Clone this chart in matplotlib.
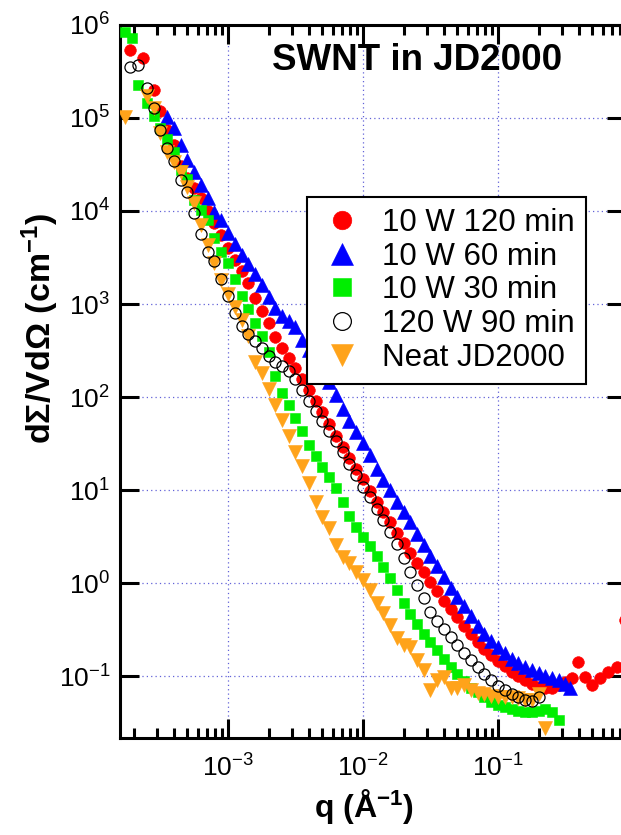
import numpy as np
import matplotlib
matplotlib.use('Agg')
import matplotlib.pyplot as plt
from matplotlib.ticker import FixedLocator, LogLocator, NullLocator

plt.rcParams['font.family'] = ['Liberation Sans', 'DejaVu Sans']
plt.rcParams['mathtext.fontset'] = 'custom'
plt.rcParams['mathtext.rm'] = 'Liberation Sans'
plt.rcParams['mathtext.bf'] = 'Liberation Sans:bold'
plt.rcParams['mathtext.it'] = 'Liberation Sans:italic'

nan = np.nan

# shared q grid of the SANS data (1/A)
q_sans = [2.51e-4, 2.82e-4, 3.16e-4, 3.55e-4, 3.98e-4, 4.47e-4, 5.01e-4, 5.62e-4,
          6.31e-4, 7.08e-4, 7.94e-4, 8.91e-4,
          1.00e-3, 1.12e-3, 1.26e-3, 1.41e-3, 1.58e-3, 1.78e-3, 2.00e-3, 2.24e-3,
          2.51e-3, 2.82e-3, 3.16e-3, 3.55e-3, 3.98e-3, 4.47e-3, 5.01e-3, 5.62e-3,
          6.31e-3, 7.08e-3, 7.94e-3, 8.91e-3,
          1.00e-2, 1.12e-2, 1.26e-2, 1.41e-2, 1.58e-2, 1.78e-2, 2.00e-2, 2.24e-2,
          2.51e-2, 2.82e-2, 3.16e-2, 3.55e-2, 3.98e-2, 4.47e-2, 5.01e-2, 5.62e-2,
          6.31e-2, 7.08e-2, 7.94e-2, 8.91e-2,
          0.100, 0.112, 0.126, 0.141, 0.158, 0.178, 0.200, 0.224, 0.251, 0.282, 0.316]

# intensities (1/cm) on q_sans
i_red = [nan, 2.00e5, 1.19e5, 7.43e4, 5.13e4, 3.05e4, 2.26e4, 1.77e4, 1.38e4, 1.00e4, 7.43e3, 5.52e3,
         4.00e3, 2.97e3, 2.26e3, 1.68e3, 1.16e3, 841, 625, 442, 336, 262, 205, 156, 119, 90.6,
         69.0, 51.3, 38.1, 29.0, 22.1, 16.8,
         13.1, 9.75, 7.43, 5.80, 4.53, 3.45, 2.69, 2.10, 1.64, 1.31, 1.03, 0.820, 0.640, 0.525,
         0.431, 0.345, 0.283, 0.232, 0.195, 0.168,
         0.145, 0.128, 0.110, 0.100, 0.0906, 0.0820, 0.0762, 0.0743, 0.0743, 0.0800, 0.0861]
i_blue = [nan, nan, nan, 1.03e5, 7.80e4, 5.13e4, 3.53e4, 2.63e4, 1.90e4, 1.38e4, 9.75e3, 8.00e3,
          5.80e3, 4.42e3, 3.36e3, 2.69e3, 2.10e3, 1.60e3, 1.19e3, 906, 743, 656, 566, 410, 320, 244,
          190, 145, 105, 74.3, 55.2, 42.1,
          32.0, 23.8, 16.8, 12.8, 10.0, 7.43, 5.80, 4.53, 3.37, 2.56, 1.95, 1.52, 1.16, 0.884,
          0.707, 0.566, 0.442, 0.345, 0.283, 0.238,
          0.205, 0.177, 0.152, 0.138, 0.125, 0.116, 0.108, 0.100, 0.0951, 0.0906, 0.0820]
i_green = [1.45e5, 1.05e5, 7.80e4, 5.94e4, 4.31e4, 2.76e4, 2.21e4, 1.31e4, 1.03e4, 8.00e3, 5.13e3, 3.62e3,
           2.76e3, 1.86e3, 1.22e3, 883, 625, 453, 305, 168, 110, 82.0, 59.4, 43.1, 30.5, 23.2,
           17.7, 13.8, 10.5, 7.43, 5.25, 4.00,
           3.13, 2.50, 1.95, 1.49, 1.13, 0.841, 0.610, 0.465, 0.362, 0.283, 0.232, 0.191, 0.152,
           0.125, 0.105, 0.0883, 0.0743, 0.0673, 0.0594, 0.0525,
           0.0488, 0.0465, 0.0442, 0.0421, 0.0410, 0.0410, 0.0421, 0.0442, 0.0410, 0.0337, nan]
i_black = [2.10e5, 1.28e5, 7.43e4, 4.75e4, 3.45e4, 2.15e4, 1.60e4, 9.51e3, 5.66e3, 3.62e3, 2.90e3, 1.86e3,
           1.22e3, 800, 580, 475, 400, 336, 276, 238, 215, 190, 156, 119, 90.6, 70.7,
           55.2, 43.1, 33.6, 25.6, 19.0, 14.5,
           10.8, 8.41, 6.25, 4.75, 3.53, 2.63, 1.86, 1.31, 0.952, 0.690, 0.488, 0.390, 0.320,
           0.263, 0.215, 0.177, 0.149, 0.125, 0.105, 0.0906,
           0.0780, 0.0707, 0.0640, 0.0594, 0.0552, 0.0538, 0.0594, nan, nan, nan, nan]
i_orange = [1.73e5, 1.28e5, 6.90e4, 4.31e4, 3.36e4, 2.63e4, 1.81e4, 1.22e4, 7.06e3, 4.31e3, 2.76e3, 1.81e3,
            1.28e3, 929, 673, 453, 238, 181, 122, 82.0, 56.6, 38.1, 25.6, 18.1, 11.9, 7.43,
            5.13, 3.90, 2.56, 1.90, 1.64, 1.31,
            1.08, 0.841, 0.610, 0.476, 0.353, 0.256, 0.215, 0.205, 0.149, 0.116, 0.0707, 0.0906,
            0.0976, 0.0743, 0.0743, 0.0800, 0.0707, 0.0656, 0.0640, 0.0610,
            0.0594, 0.0594, 0.0594, 0.0580, 0.0552, 0.0552, 0.0640, 0.0276, nan, nan, nan]

# lowest-q points (USANS side)
q_red_low = [1.88e-4, 2.34e-4]
i_red_low = [5.38e5, 4.42e5]
q_green_low = [1.73e-4, 1.95e-4, 2.15e-4]
i_green_low = [8.41e5, 7.25e5, 2.26e5]
q_black_low = [1.88e-4, 2.15e-4]
i_black_low = [3.53e5, 3.72e5]
q_orange_low = [1.73e-4]
i_orange_low = [1.03e5]

# high-q points
q_red_high = [0.353, 0.392, 0.441, 0.497, 0.570, 0.653, 0.761, 0.873]
i_red_high = [0.0951, 0.141, 0.0976, 0.0800, 0.0951, 0.110, 0.125, 0.400]
q_blue_high = [0.341]
i_blue_high = [0.0743]

labels = ['10 W 120 min', '10 W 60 min', '10 W 30 min', '120 W 90 min', 'Neat JD2000']
x_ticks = [1e-3, 1e-2, 1e-1]
y_ticks = [1e-1, 1e0, 1e1, 1e2, 1e3, 1e4, 1e5, 1e6]

fig = plt.figure(figsize=(6.21, 8.35), dpi=100)
ax = fig.add_axes([0.1932, 0.1162, 0.8148, 0.8539])
ax.set_xscale('log')
ax.set_yscale('log')

series = [
    (q_red_low, i_red_low, i_red, q_red_high, i_red_high, 'o', '#ff0000', True, 8.4, 3),
    ([], [], i_blue, q_blue_high, i_blue_high, '^', '#0000ff', True, 9.6, 4),
    (q_green_low, i_green_low, i_green, [], [], 's', '#00ee00', True, 7.8, 5),
    (q_black_low, i_black_low, i_black, [], [], 'o', 'black', False, 8.0, 7),
    (q_orange_low, i_orange_low, i_orange, [], [], 'v', '#ffa31a', True, 9.6, 6),
]

for lab, (ql, il, ig, qh, ih, mk, col, filled, ms, z) in zip(labels, series):
    q = list(ql) + q_sans + list(qh)
    y = list(il) + ig + list(ih)
    ax.plot(q, y, linestyle='none', marker=mk, markersize=ms,
            markerfacecolor=col if filled else 'none', markeredgecolor=col,
            markeredgewidth=0.4 if filled else 0.9, label=lab, zorder=z)

ax.set_xlim(1.585e-4, 0.887)
ax.set_ylim(0.0216, 1e6)

ax.xaxis.set_major_locator(FixedLocator(x_ticks))
ax.xaxis.set_minor_locator(LogLocator(base=10, subs=np.arange(2, 10), numticks=20))
ax.yaxis.set_major_locator(FixedLocator(y_ticks))
ax.yaxis.set_minor_locator(NullLocator())
ax.set_xticklabels(['$\\mathdefault{10^{-3}}$', '$\\mathdefault{10^{-2}}$', '$\\mathdefault{10^{-1}}$'])
ax.set_yticklabels(['$\\mathdefault{10^{-1}}$', '$\\mathdefault{10^{0}}$', '$\\mathdefault{10^{1}}$',
                    '$\\mathdefault{10^{2}}$', '$\\mathdefault{10^{3}}$', '$\\mathdefault{10^{4}}$',
                    '$\\mathdefault{10^{5}}$', '$\\mathdefault{10^{6}}$'])
ax.tick_params(which='both', direction='in', top=True, right=True, width=2.2)
ax.tick_params(which='major', length=14, labelsize=19)
ax.tick_params(axis='x', which='major', pad=12)
ax.tick_params(axis='y', which='major', pad=7)
ax.tick_params(which='minor', length=7)
for s in ax.spines.values():
    s.set_linewidth(2.2)

ax.set_axisbelow(True)
ax.grid(True, which='major', linestyle=(0, (1, 2.5)), color='#6262d8', linewidth=0.9)

leg = ax.legend(loc='upper left', bbox_to_anchor=(0.3696, 0.7588), borderaxespad=0,
                fancybox=False, edgecolor='black', framealpha=1, fontsize=22.5,
                markerscale=1.6, handlelength=1.55, handletextpad=0.5,
                labelspacing=0.12, borderpad=0.35)
leg.get_frame().set_linewidth(1.5)
leg.set_zorder(10)

fig.text(417 / 621, 1 - 60 / 835, 'SWNT in JD2000', fontsize=26.5, fontweight='bold',
         ha='center', va='center')
fig.text(40 / 621, 1 - 328 / 835, 'd\u03a3/Vd\u03a9 (cm$^{\\mathbf{-1}}$)', rotation=90,
         fontsize=24.5, fontweight='bold', ha='center', va='center')
fig.text(364 / 621, 1 - 806 / 835, 'q (\u00c5$^{\\mathbf{-1}}$)', fontsize=23,
         fontweight='bold', ha='center', va='center')

fig.savefig('out.png', dpi=100)
